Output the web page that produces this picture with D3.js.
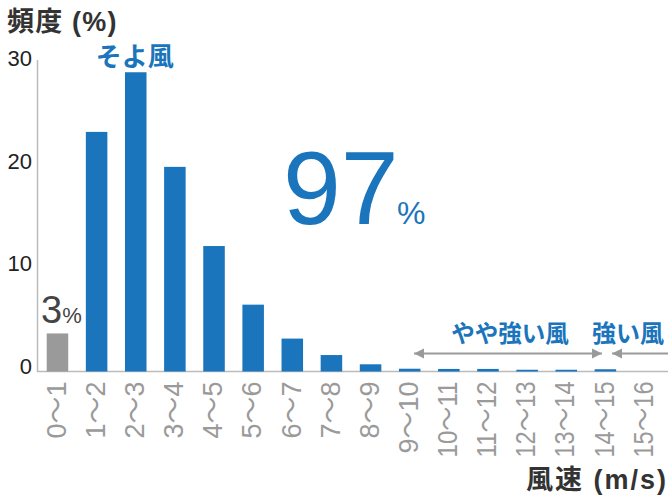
<!DOCTYPE html>
<html><head><meta charset="utf-8">
<script src="https://cdn.jsdelivr.net/npm/d3@7"></script>
<style>body{margin:0;background:#fff}</style>
</head><body>
<script>
const categories = ["0〜1","1〜2","2〜3","3〜4","4〜5","5〜6","6〜7","7〜8","8〜9","9〜10","10〜11","11〜12","12〜13","13〜14","14〜15","15〜16"];
const frequency = [3.7,23.3,29.1,19.9,12.2,6.5,3.2,1.6,0.7,0.27,0.25,0.25,0.17,0.17,0.22,0];
const yTicks = [0,10,20,30];
const calmShare = "3";
const mainShare = "97";

const W=668,H=500;
const LAT="'Liberation Sans','Noto Sans CJK JP',sans-serif";
const JP="'Noto Sans CJK JP',sans-serif";
const blue="#1a75bc", gray="#9a9a9a";
const svg=d3.select("body").append("svg").attr("width",W).attr("height",H);

const x=d3.scaleBand().domain(categories).range([37,665]).paddingInner(0.45).paddingOuter(0.248);
const y=d3.scaleLinear().domain([0,30]).range([371.5,63]);

// axes lines
svg.append("line").attr("x1",37.5).attr("x2",37.5).attr("y1",60).attr("y2",y(0)).attr("stroke","#bbb").attr("stroke-width",1.5);
svg.append("line").attr("x1",37).attr("x2",668).attr("y1",y(0)).attr("y2",y(0)).attr("stroke","#bbb").attr("stroke-width",1.5);

// bars
svg.selectAll("rect.bar").data(categories).join("rect")
  .attr("x",d=>x(d)).attr("width",x.bandwidth())
  .attr("y",(d,i)=>y(frequency[i])).attr("height",(d,i)=>y(0)-y(frequency[i]))
  .attr("fill",(d,i)=>i===0?gray:blue);

// y tick labels
svg.selectAll("text.yt").data(yTicks).join("text")
  .attr("x",32).attr("y",d=>y(d)-5).attr("dy","0.35em")
  .attr("text-anchor","end").attr("font-family",LAT).attr("font-size",22).attr("fill","#222")
  .text(d=>d);

// x tick labels
svg.selectAll("text.xt").data(categories).join("text")
  .attr("transform",d=>`translate(${x(d)+x.bandwidth()/2-1.5},${y(0)+10}) rotate(-90)`)
  .attr("text-anchor","end").attr("dy","0.36em")
  .attr("font-family",LAT).attr("font-size",27).attr("fill",gray)
  .each(function(d){ if(d.length>4) d3.select(this).attr("textLength",76).attr("lengthAdjust","spacingAndGlyphs"); })
  .text(d=>d);

// titles
svg.append("text").attr("x",7).attr("y",31).attr("font-family",LAT).attr("font-weight","bold")
  .attr("font-size",27).attr("letter-spacing",1.2).attr("fill","#333").text("頻度 (%)");
svg.append("text").attr("x",668).attr("y",489).attr("text-anchor","end").attr("font-family",LAT).attr("font-weight","bold")
  .attr("font-size",27).attr("letter-spacing",2).attr("fill","#333").text("風速 (m/s)");

// annotations
svg.append("text").attr("x",x(categories[2])+x.bandwidth()/2-1).attr("y",66).attr("text-anchor","middle")
  .attr("font-family",JP).attr("font-weight","bold").attr("font-size",26).attr("fill",blue).text("そよ風");

svg.append("text").attr("x",283).attr("y",224).attr("font-family",LAT).attr("fill",blue)
  .attr("font-size",104).text(mainShare);
svg.append("text").attr("x",397).attr("y",224).attr("font-family",LAT).attr("fill",blue)
  .attr("font-size",32).text("%");

const small=svg.append("text").attr("x",41).attr("y",323).attr("font-family",LAT).attr("fill","#444");
small.append("tspan").attr("font-size",38).text(calmShare);
small.append("tspan").attr("font-size",22).text("%");

// arrows
const defs=svg.append("defs");
defs.append("marker").attr("id","ah").attr("viewBox","0 0 10 10").attr("refX",10).attr("refY",5)
  .attr("markerWidth",10).attr("markerHeight",11).attr("markerUnits","userSpaceOnUse").attr("orient","auto-start-reverse")
  .append("path").attr("d","M0,0L10,5L0,10Z").attr("fill",gray);
const ay=353.5;
svg.append("line").attr("x1",414).attr("x2",602).attr("y1",ay).attr("y2",ay)
  .attr("stroke",gray).attr("stroke-width",2).attr("marker-start","url(#ah)").attr("marker-end","url(#ah)");
svg.append("line").attr("x1",668).attr("x2",612).attr("y1",ay).attr("y2",ay)
  .attr("stroke",gray).attr("stroke-width",2).attr("marker-end","url(#ah)");

svg.append("text").attr("x",510).attr("y",342).attr("text-anchor","middle")
  .attr("font-family",JP).attr("font-weight","bold").attr("font-size",23.5).attr("fill",blue).text("やや強い風");
svg.append("text").attr("x",664).attr("y",342).attr("text-anchor","end")
  .attr("font-family",JP).attr("font-weight","bold").attr("font-size",24).attr("fill",blue).text("強い風");
</script>
</body></html>
